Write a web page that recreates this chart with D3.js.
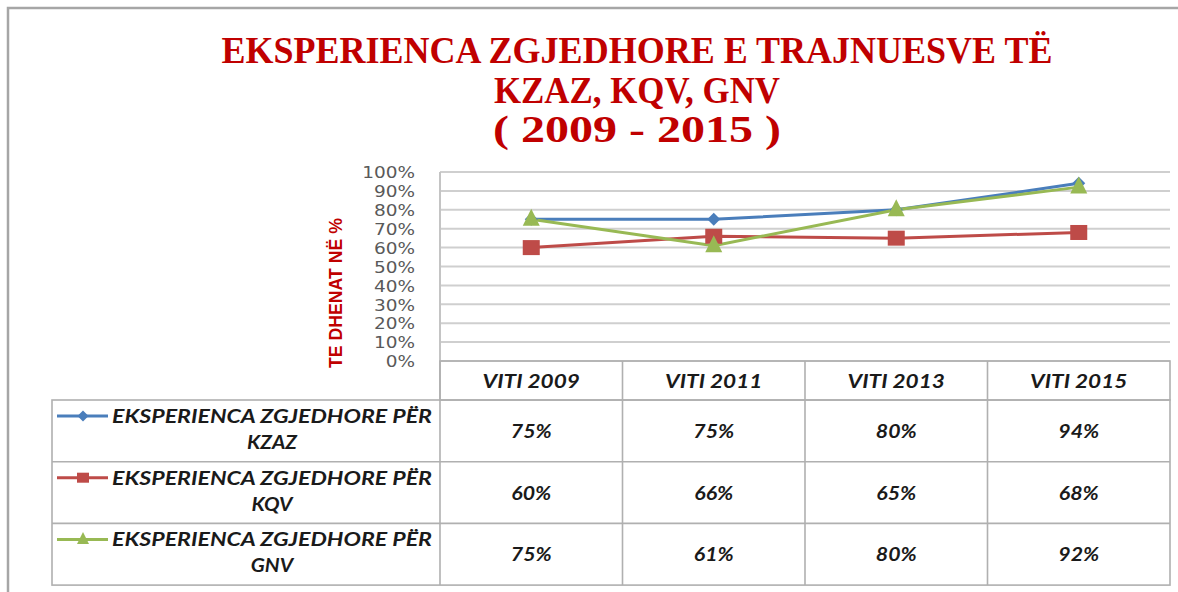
<!DOCTYPE html>
<html><head><meta charset="utf-8">
<script src="https://cdn.jsdelivr.net/npm/d3@7"></script>
<style>html,body{margin:0;padding:0;background:#fff;}svg{display:block;}</style>
</head><body>
<svg id="chart" width="1178" height="592"></svg>
<script>
const titleLines = ["EKSPERIENCA ZGJEDHORE E TRAJNUESVE TË", "KZAZ, KQV, GNV", "( 2009 -  2015 )"];
const yAxisTitle = "TE DHENAT NË  %";
const categories = ["VITI 2009", "VITI 2011", "VITI 2013", "VITI 2015"];
const seriesNames = ["EKSPERIENCA ZGJEDHORE PËR|KZAZ", "EKSPERIENCA ZGJEDHORE PËR|KQV", "EKSPERIENCA ZGJEDHORE PËR|GNV"];
const kzaz = [75, 75, 80, 94];
const kqv = [60, 66, 65, 68];
const gnv = [75, 61, 80, 92];
const yTicks = [0, 10, 20, 30, 40, 50, 60, 70, 80, 90, 100];

const colors = ["#4a7ebb", "#be4b48", "#98b954"];
const markers = ["diamond", "square", "triangle"];
const series = [kzaz, kqv, gnv].map((v, i) => ({name: seriesNames[i], values: v, color: colors[i], marker: markers[i]}));

const svg = d3.select("#chart");
// outer frame
svg.append("path").attr("d", "M8,592 V8 H1178").attr("fill", "none").attr("stroke", "#a6a6a6").attr("stroke-width", 2.5);

// title
const tW = [831, 286, 288];
const tY = [63, 103, 142];
titleLines.forEach((t, i) => {
  svg.append("text").attr("x", 637).attr("y", tY[i]).attr("text-anchor", "middle")
    .attr("font-family", "Liberation Serif").attr("font-weight", "bold").attr("font-size", 37)
    .attr("fill", "#c00000").attr("textLength", tW[i]).attr("lengthAdjust", "spacingAndGlyphs").text(t);
});

const pL = 440, pR = 1170, pT = 172, pB = 361;
const x = d3.scaleBand().domain(categories).range([pL, pR]).padding(0);
const y = d3.scaleLinear().domain([0, 100]).range([pB, pT]);

// gridlines
svg.append("g").selectAll("line").data(yTicks).join("line")
  .attr("x1", pL).attr("x2", pR).attr("y1", d => y(d)).attr("y2", d => y(d))
  .attr("stroke", "#cfcfcf").attr("stroke-width", 2);
svg.append("line").attr("x1", pL).attr("x2", pL).attr("y1", pT).attr("y2", pB)
  .attr("stroke", "#c4c4c4").attr("stroke-width", 2);

// y axis labels
const yAxis = d3.axisLeft(y).tickValues(yTicks).tickFormat(d => d + "%").tickSize(0).tickPadding(0);
const ga = svg.append("g").attr("transform", `translate(${pL - 25},0)`).call(yAxis);
ga.select(".domain").remove();
ga.selectAll("text").attr("font-family", "DejaVu Sans").attr("font-size", 16.5).attr("fill", "#595959")
  .attr("dy", "0.35em").each(function() {
    const l = this.getComputedTextLength();
    d3.select(this).attr("textLength", l * 1.12).attr("lengthAdjust", "spacingAndGlyphs");
  });

// y axis title
svg.append("text").attr("transform", "translate(342,293) rotate(-90)").attr("text-anchor", "middle")
  .attr("font-family", "Liberation Sans Narrow, Liberation Sans").attr("font-weight", "bold").attr("font-size", 17.5)
  .attr("fill", "#c00000").attr("textLength", 150).attr("lengthAdjust", "spacingAndGlyphs").text(yAxisTitle);

const diamondPath = (cx, cy, r) => `M${cx},${cy - r}L${cx + r},${cy}L${cx},${cy + r}L${cx - r},${cy}Z`;
function drawMarker(g, type, cx, cy, s, color) {
  if (type === "diamond") {
    g.append("path").attr("d", diamondPath(cx, cy, s / 2)).attr("fill", color);
  } else if (type === "square") {
    g.append("rect").attr("x", cx - s / 2).attr("y", cy - s / 2 + 1).attr("width", s).attr("height", s - 2).attr("fill", color);
  } else {
    g.append("path").attr("d", `M${cx},${cy - s * 0.62}L${cx + s / 2},${cy + s * 0.38}L${cx - s / 2},${cy + s * 0.38}Z`).attr("fill", color);
  }
}

const line = d3.line().x((d, i) => x(categories[i]) + x.bandwidth() / 2).y(d => y(d));
series.forEach(s => {
  svg.append("path").datum(s.values).attr("d", line).attr("fill", "none").attr("stroke", s.color).attr("stroke-width", 3);
});
series.forEach(s => {
  const g = svg.append("g");
  s.values.forEach((v, i) => {
    const cx = x(categories[i]) + x.bandwidth() / 2, cy = y(v);
    drawMarker(g, s.marker, cx, cy, s.marker === "diamond" ? 13 : 17, s.color);
  });
});

// data table
const tblLeft = 52, headTop = 361, headBottom = 400, rowH = 61.7;
const rows = series.map((s, i) => headBottom + rowH * i);
const tblBottom = headBottom + rowH * 3;
const tcol = "#b0b0b0";
const tg = svg.append("g");
tg.append("rect").attr("x", pL).attr("y", headTop).attr("width", pR - pL).attr("height", headBottom - headTop)
  .attr("fill", "none").attr("stroke", tcol).attr("stroke-width", 1.6);
tg.append("rect").attr("x", tblLeft).attr("y", headBottom).attr("width", pR - tblLeft).attr("height", tblBottom - headBottom)
  .attr("fill", "none").attr("stroke", tcol).attr("stroke-width", 1.6);
rows.slice(1).forEach(r => tg.append("line").attr("x1", tblLeft).attr("x2", pR).attr("y1", r).attr("y2", r).attr("stroke", tcol).attr("stroke-width", 1.6));
categories.forEach(c => tg.append("line").attr("x1", x(c)).attr("x2", x(c)).attr("y1", headTop).attr("y2", tblBottom).attr("stroke", tcol).attr("stroke-width", 1.6));

const tf = "Lato, Open Sans, sans-serif";
function tableText(g, tx, ty, str, stretch) {
  const t = g.append("text").attr("x", tx).attr("y", ty).attr("text-anchor", "middle")
    .attr("font-family", tf).attr("font-style", "italic").attr("font-weight", "bold").attr("font-size", 18.5)
    .attr("fill", "#1a1a1a").text(str);
  const l = t.node().getComputedTextLength();
  t.attr("textLength", l * stretch).attr("lengthAdjust", "spacingAndGlyphs");
  return t;
}
categories.forEach(c => {
  tableText(tg, x(c) + x.bandwidth() / 2, (headTop + headBottom) / 2 + 7, c, 1.22);
});
series.forEach((s, i) => {
  const r0 = rows[i];
  const ly = r0 + 16;
  tg.append("line").attr("x1", 57).attr("x2", 108).attr("y1", ly).attr("y2", ly).attr("stroke", s.color).attr("stroke-width", 3);
  drawMarker(tg, s.marker, 83, ly, s.marker === "diamond" ? 11 : 12, s.color);
  const parts = s.name.split("|");
  const t1 = tableText(tg, 272, ly + 7, parts[0], 1);
  t1.attr("textLength", 320);
  tableText(tg, 272, ly + 33, parts[1], 1.12);
  s.values.forEach((v, j) => {
    tableText(tg, x(categories[j]) + x.bandwidth() / 2, r0 + rowH / 2 + 7, v + "%", 1.15);
  });
});
</script>
</body></html>
